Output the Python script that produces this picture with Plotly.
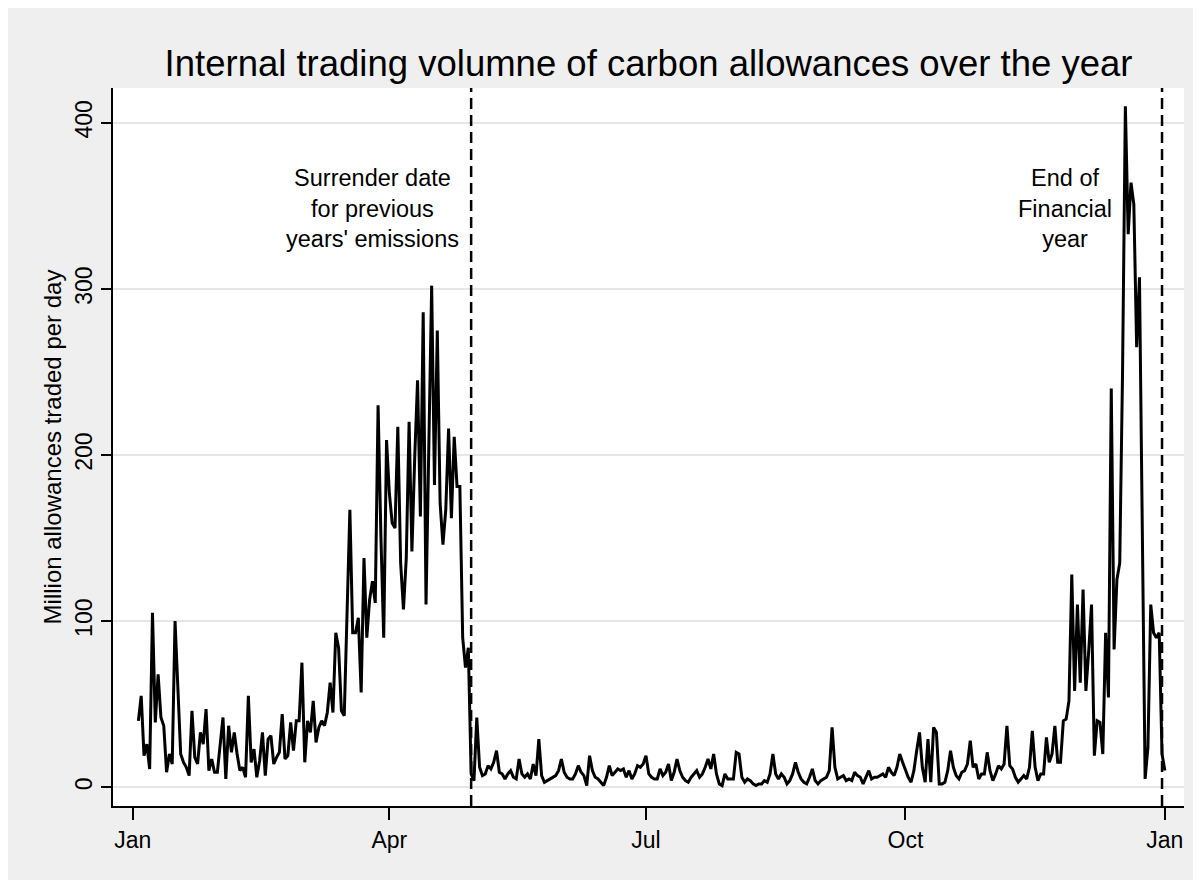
import pandas as pd
import plotly.graph_objects as go

# daily volumes (million allowances)
jan_feb = [40, 55, 19, 26, 11, 105, 39, 68, 42, 37,
           9, 20, 14, 100, 60, 20, 15, 12, 7, 46,
           18, 14, 33, 26, 47, 10, 17, 9, 9, 25,
           42, 5, 37, 21, 33, 20, 10, 12, 6, 55,
           15, 23, 6, 16, 33, 7, 29, 31, 14, 18,
           21, 44, 17, 19, 39, 22, 40, 40]
mar_apr = [75, 15, 40, 33, 52, 27, 36, 40, 37, 45,
           63, 45, 93, 84, 46, 43, 100, 167, 93, 93,
           102, 57, 138, 90, 113, 124, 111, 230, 151, 90,
           209, 177, 159, 156, 217, 135, 107, 138, 220, 142,
           199, 245, 163, 286, 110, 217, 302, 182, 275, 171,
           146, 167, 216, 162, 211, 181, 181, 90, 72, 84]
may_oct = [8, 4, 42, 12, 7, 8, 13, 11, 15, 22,
           9, 8, 5, 8, 10, 6, 5, 17, 8, 6,
           8, 5, 14, 7, 29, 7, 3, 4, 5, 6,
           7, 10, 17, 9, 6, 5, 5, 8, 13, 9,
           7, 1, 19, 10, 6, 5, 3, 1, 6, 13,
           7, 9, 11, 10, 11, 6, 10, 5, 8, 13,
           12, 14, 19, 8, 6, 5, 5, 11, 7, 9,
           14, 4, 9, 17, 10, 6, 4, 3, 6, 8,
           10, 6, 8, 12, 17, 11, 20, 8, 2, 1,
           8, 5, 5, 5, 21, 20, 6, 3, 5, 4,
           2, 1, 2, 2, 4, 3, 8, 20, 8, 5,
           8, 6, 2, 4, 8, 15, 9, 5, 3, 2,
           6, 11, 4, 2, 4, 5, 6, 10, 36, 12,
           5, 6, 7, 4, 5, 4, 9, 7, 6, 2,
           6, 10, 5, 6, 6, 7, 8, 6, 12, 9,
           7, 12, 20, 15, 10, 6, 3, 10, 22, 33,
           12, 3, 29, 3, 36, 33, 2, 2, 3, 10,
           22, 12, 7]
oct_dec = [5, 9, 10, 14, 28, 12, 14, 5, 8, 8,
           21, 10, 4, 8, 13, 11, 14, 37, 13, 11,
           6, 3, 5, 7, 5, 12, 34, 12, 4, 8,
           8, 30, 15, 20, 37, 15, 15, 40, 41, 52,
           128, 58, 110, 63, 119, 58, 82, 110, 19, 40,
           39, 20, 93, 54, 240, 83, 125, 135, 250, 410,
           333, 364, 351, 265, 307, 150, 5, 24, 110, 93,
           90, 93, 20, 10]

tick_dates = ["2020-01-01", "2020-04-01", "2020-07-01", "2020-10-01", "2021-01-01"]
tick_labels = ["Jan", "Apr", "Jul", "Oct", "Jan"]
y_ticks = [0, 100, 200, 300, 400]
event_dates = ["2020-04-30", "2020-12-31"]
notes = {
    "2020-03-26": "Surrender date<br>for previous<br>years' emissions",
    "2020-11-26 12:00": "End of<br>Financial<br>year",
}

volume = jan_feb + mar_apr + may_oct + oct_dec
dates = pd.date_range("2020-01-03", periods=len(volume), freq="D")

FONT = "Liberation Sans, Arial, sans-serif"

fig = go.Figure(
    go.Scatter(x=dates, y=volume, mode="lines",
               line=dict(color="black", width=3))
)

for d in event_dates:
    fig.add_shape(type="line", xref="x", yref="paper", x0=d, x1=d, y0=0, y1=1,
                  line=dict(color="black", width=2.5, dash="11px,6px"))

for x, text in notes.items():
    fig.add_annotation(x=x, y=0.8315, xref="x", yref="paper",
                       text=text, showarrow=False, xanchor="center",
                       yanchor="middle", align="center",
                       font=dict(family=FONT, size=23.5))

fig.update_layout(
    width=1187, height=872,
    margin=dict(l=105, r=11, t=80, b=74),
    paper_bgcolor="#efefef", plot_bgcolor="white",
    font=dict(family=FONT, size=23, color="black"),
    showlegend=False,
    title=dict(text="Internal trading volumne of carbon allowances over the year",
               x=0.5, xref="paper", xanchor="center",
               y=1 - 55 / 872, yref="container", yanchor="middle",
               font=dict(family=FONT, size=36.5)),
)
fig.update_xaxes(range=["2019-12-25", "2021-01-07 19:00"],
                 tickvals=tick_dates, ticktext=tick_labels,
                 ticks="outside", ticklen=12, tickwidth=2, tickcolor="black",
                 showline=True, linecolor="black", linewidth=2,
                 showgrid=False, zeroline=False)
fig.update_yaxes(range=[-11.3, 421], tickvals=y_ticks, tickangle=-90,
                 ticks="outside", ticklen=10, tickwidth=2, tickcolor="black",
                 showline=True, linecolor="black", linewidth=2,
                 showgrid=True, gridcolor="#e6e6e6", gridwidth=2, zeroline=False,
                 title=dict(text="Million allowances traded per day",
                            standoff=2, font=dict(family=FONT, size=24)))

fig.write_html("out.html")
